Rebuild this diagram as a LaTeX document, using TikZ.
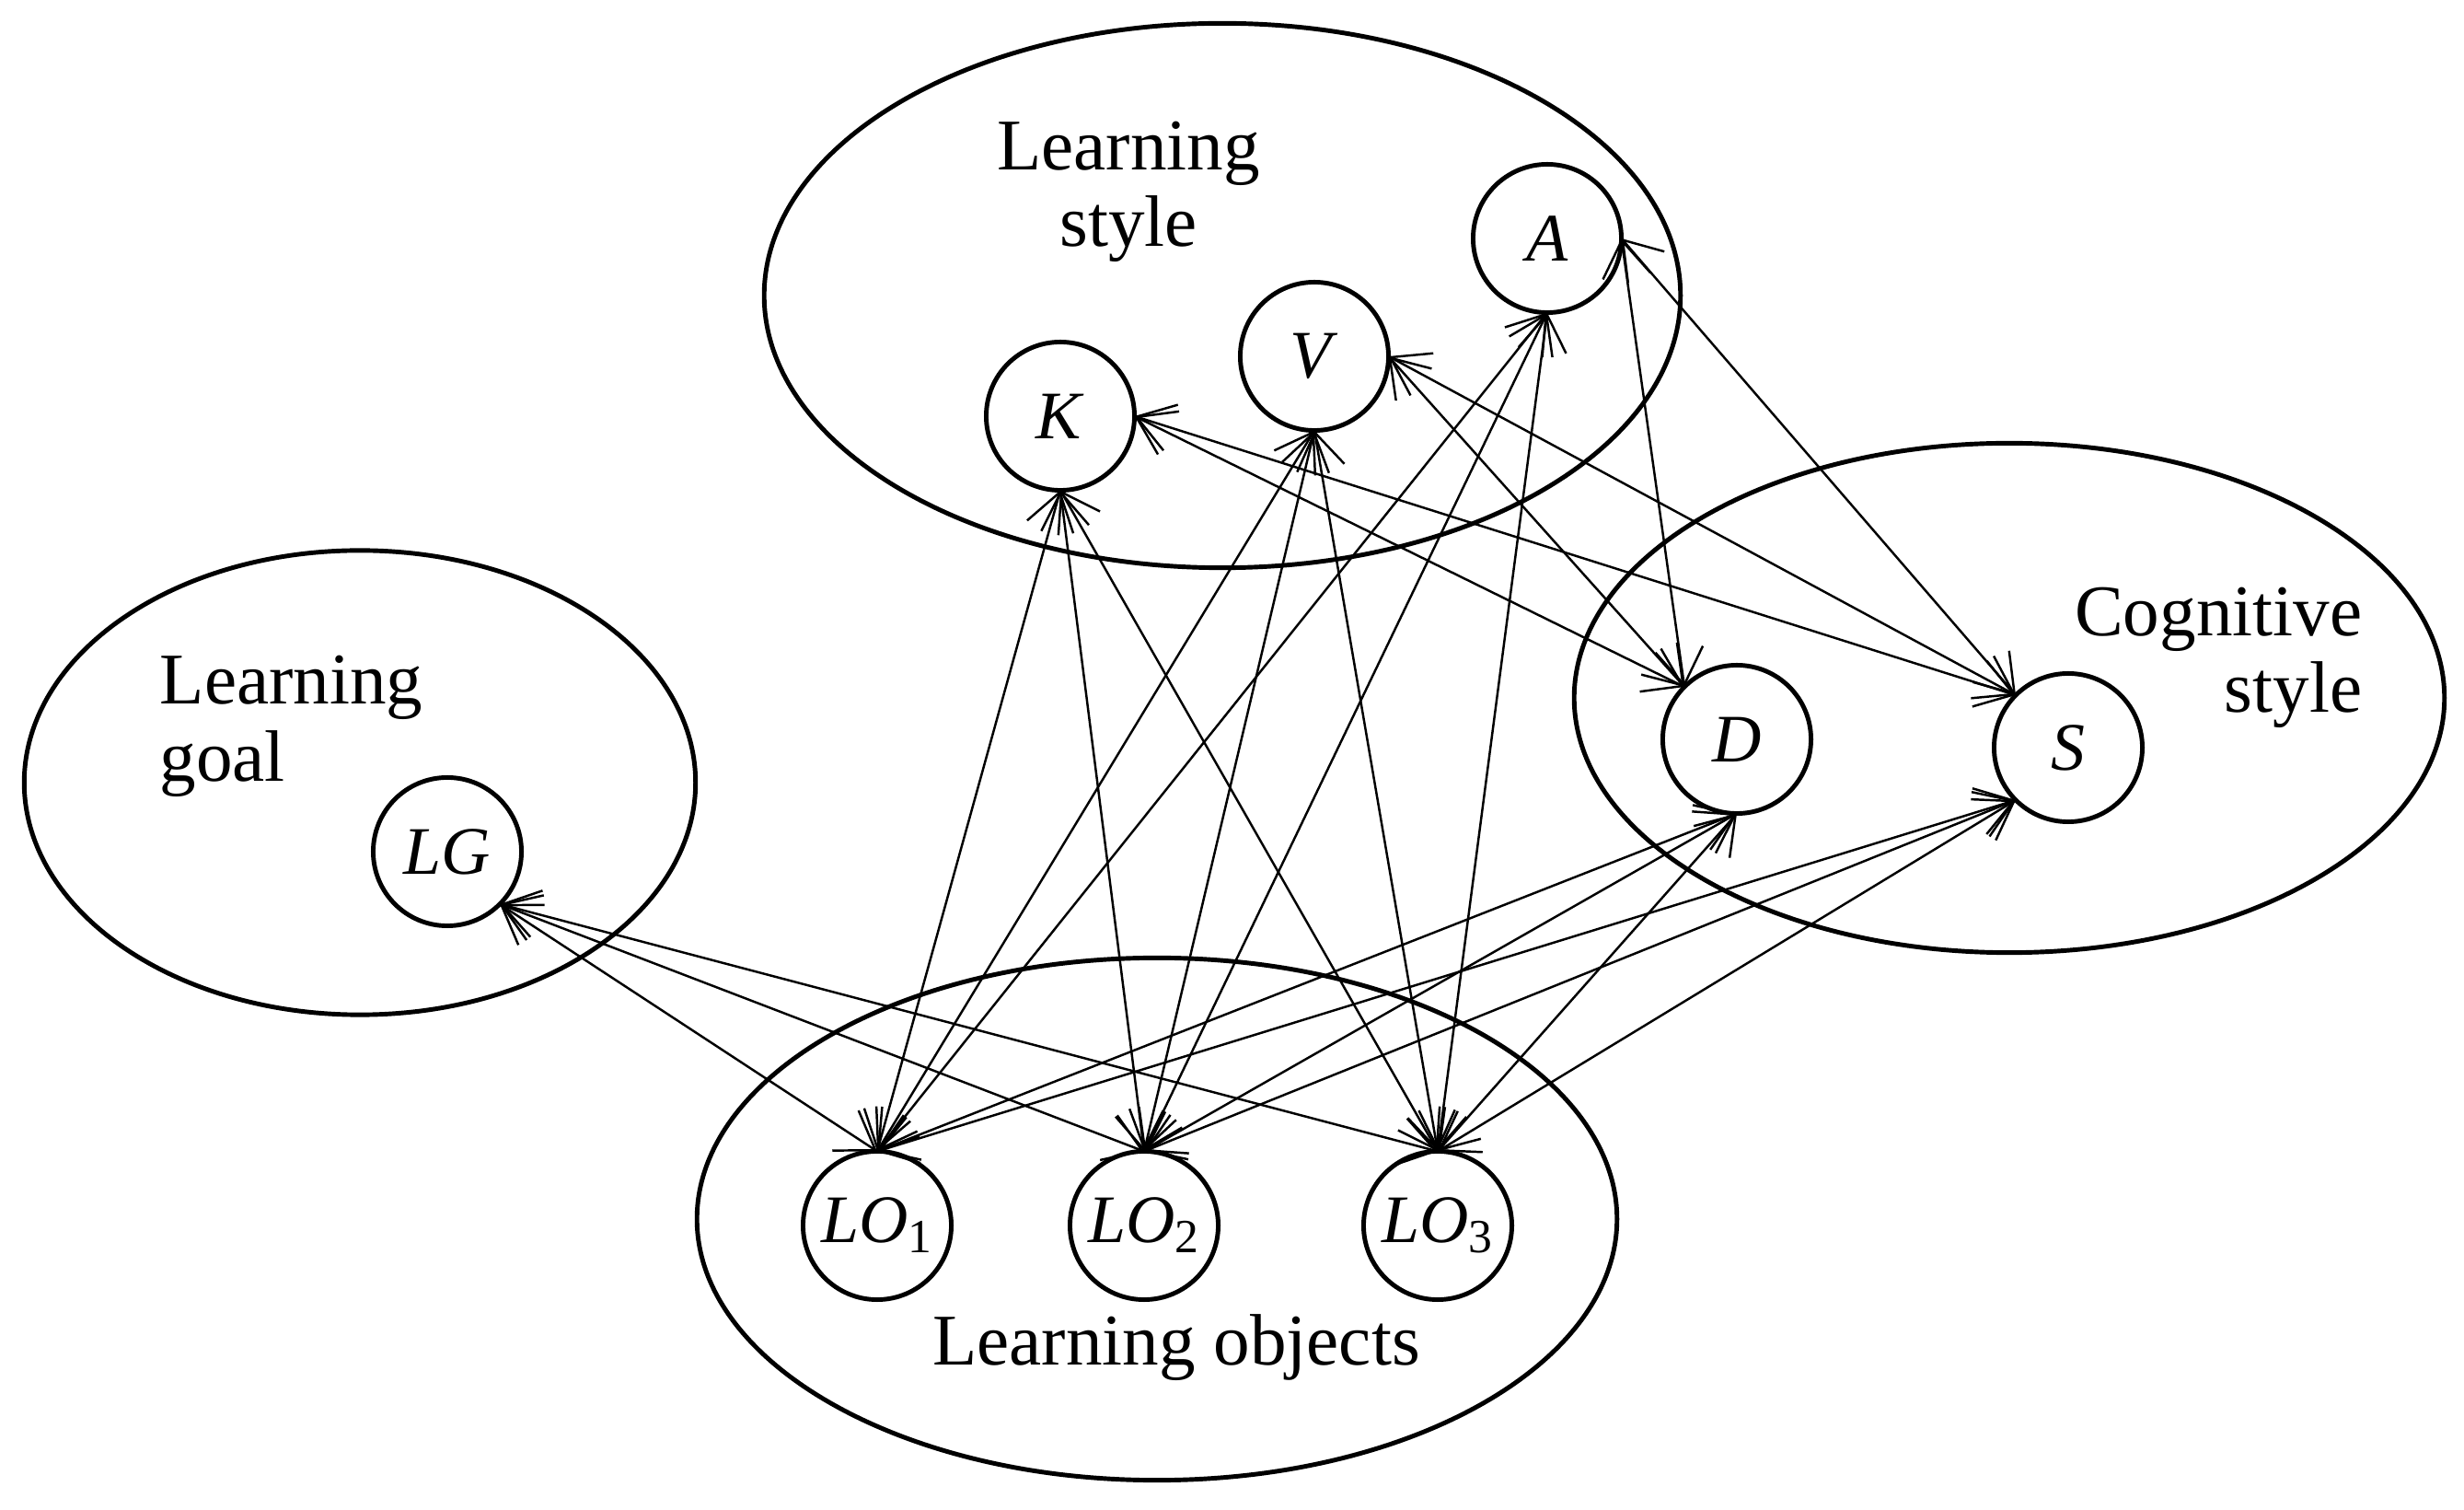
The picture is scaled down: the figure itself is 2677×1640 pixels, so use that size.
\documentclass[tikz,border=0pt]{standalone}
\usepackage{fontspec}
\setmainfont{Liberation Serif}
\usetikzlibrary{arrows.meta,shapes.geometric}
\begin{document}
\begin{tikzpicture}[x=0.01cm,y=-0.01cm,
  region/.style={draw, ellipse, line width=1.4pt, inner sep=0pt, outer sep=0pt},
  var/.style={draw, circle, line width=1.4pt, fill=white, minimum size=1.61cm, inner sep=0pt, outer sep=0pt, font=\fontsize{21}{24}\selectfont},
  lbl/.style={inner sep=0pt, font=\fontsize{22.5}{27}\selectfont},
  barb/.tip={Straight Barb[length=3.9mm,width=5.2mm]},
  link/.style={line width=0.7pt, barb-barb}
]
\useasboundingbox (0,0) rectangle (2677,1640);

% group ellipses
\node[region, minimum width=9.95cm, minimum height=5.91cm] (lsE) at (1328,321) {};
\node[region, minimum width=9.45cm, minimum height=5.53cm] (csE) at (2183,758) {};
\node[region, minimum width=7.29cm, minimum height=5.04cm] (lgE) at (391,850) {};
\node[region, minimum width=9.99cm, minimum height=5.67cm] (loE) at (1257,1324) {};

% group labels
\node[lbl, anchor=base] (ls1) at (1226,185) {Learning};
\node[lbl, anchor=base] (ls2) at (1226,268) {style};
\node[lbl, anchor=base west] (lg1) at (173,765) {Learning};
\node[lbl, anchor=base west] (lg2) at (173,849) {goal};
\node[lbl, anchor=base east] (cs1) at (2567,691) {Cognitive};
\node[lbl, anchor=base east] (cs2) at (2567,774) {style};
\node[lbl, anchor=base] (lobj) at (1278,1483) {Learning objects};

% variables
\node[var] (K) at (1152,452) {\textit{K}};
\node[var] (V) at (1428,387) {\textit{V}};
\node[var] (A) at (1681,259) {\textit{A}};
\node[var] (D) at (1887,803) {\textit{D}};
\node[var] (S) at (2247,812) {\textit{S}};
\node[var] (LG) at (486,925) {\textit{LG}};
\node[var] (LO1) at (953,1331) {\textit{LO}\textsubscript{1}};
\node[var] (LO2) at (1243,1331) {\textit{LO}\textsubscript{2}};
\node[var] (LO3) at (1562,1331) {\textit{LO}\textsubscript{3}};

% connectors
\foreach \t in {LO1,LO2,LO3} {
  \draw[link] (K.south) -- (\t.north);
  \draw[link] (V.south) -- (\t.north);
  \draw[link] (A.south) -- (\t.north);
  \draw[link] (D.south) -- (\t.north);
  \draw[link] (S.south west) -- (\t.north);
  \draw[link] (LG.south east) -- (\t.north);
}
\foreach \s in {K,V,A} {
  \draw[link] (\s.east) -- (D.north west);
  \draw[link] (\s.east) -- (S.north west);
}
\end{tikzpicture}
\end{document}
